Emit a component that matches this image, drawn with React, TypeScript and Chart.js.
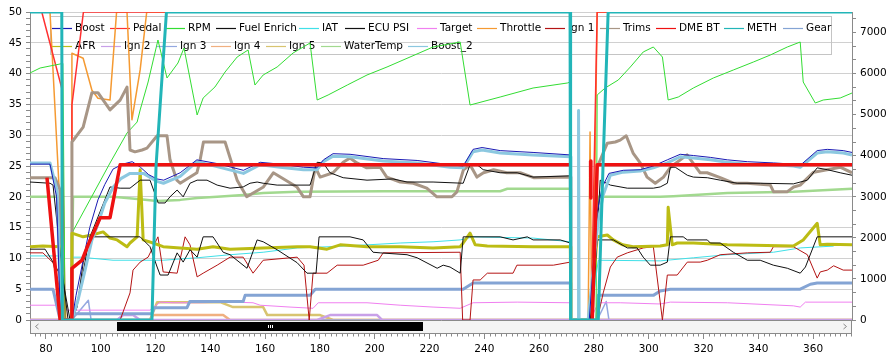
import React, { useEffect, useRef } from 'react';
import { Chart, registerables } from 'chart.js';

Chart.register(...registerables);

type Pt = [number, number | null];

// ---------- data (x = log time, y = value) ----------
const xMin = 74.2;
const xMax = 374.2;
const xTickValues = [80, 100, 120, 140, 160, 180, 200, 220, 240, 260, 280, 300, 320, 340, 360];
const leftMax = 50;
const rightMax = 7500;

const boost: Pt[] = [[74.2,25.3],[81.5,25.3],[83.9,20.0],[85.3,0],[89.5,0],[91.0,4.0],[93.5,9.5],[96.0,15.0],[99.0,19.5],[101.5,22.0],[104.5,24.5],[108.0,25.3],[111.5,25.7],[114.5,24.8],[117.5,23.6],[120.5,22.9],[123.0,22.7],[129.0,23.9],[135.1,26.0],[142.4,25.4],[152.1,24.3],[158.2,25.6],[165.5,25.3],[174.0,24.8],[178.9,24.7],[181.3,26.0],[184.8,27.0],[191.0,26.9],[203.1,26.2],[215.5,25.9],[227.5,25.2],[232.3,25.0],[235.9,27.7],[239.2,28.0],[245.8,27.5],[257.8,27.2],[271.4,26.8],[271.6,0],[278.3,0],[281.2,17.5],[283.0,21.5],[285.5,23.8],[290.7,24.3],[296.9,24.4],[301.7,25.0],[306.8,26.0],[311.5,26.9],[316.3,26.7],[322.5,26.4],[328.7,26.0],[336.0,25.7],[345.5,25.5],[352.8,25.3],[355.3,25.1],[361.5,27.5],[365.2,27.7],[371.0,27.5],[374.2,27.2]];

const boost2: Pt[] = [[74.2,25.5],[81.5,25.5],[84.1,21.0],[85.5,0],[89.5,0],[91.7,3.2],[94.3,8.1],[96.8,13.0],[98.6,15.1],[101.5,19.0],[104.6,21.6],[107.5,23.0],[110.7,23.8],[115.6,23.8],[120.5,22.5],[122.9,22.2],[129.0,23.3],[135.1,25.7],[142.4,24.9],[152.1,23.8],[158.2,25.2],[165.5,24.8],[174.0,24.4],[178.9,24.4],[181.3,25.7],[184.8,26.6],[191.0,26.5],[203.1,25.8],[215.5,25.5],[227.5,24.8],[232.3,24.7],[235.9,27.3],[239.2,27.6],[245.8,27.1],[257.8,26.8],[271.4,26.5],[271.6,0],[274.2,0],[274.4,34],[274.6,0],[277.9,0],[281.6,16.2],[283.4,20.3],[286.0,23.5],[290.7,24.0],[296.9,24.2],[301.7,24.7],[306.8,25.5],[311.5,26.5],[316.3,26.3],[322.5,26.0],[328.7,25.6],[336.0,25.3],[345.5,25.2],[352.8,25.0],[355.3,24.8],[361.5,27.1],[365.2,27.3],[371.0,27.1],[374.2,26.8]];

const pedal: Pt[] = [[74.2,50],[78.5,50],[85.8,37.6],[87.0,0],[89.2,0],[89.5,34.9],[93.7,50],[271.4,50],[271.6,0],[279.0,0],[281.2,50],[374.2,50]];

const rpm: Pt[] = [[74.2,6015],[77.9,6136],[81.5,6185],[85.2,6234],[86.2,6250],[87.0,0],[89.5,0],[89.7,2143],[103.4,3823],[109.6,4553],[113.3,4821],[114.4,5114],[117.3,5795],[120.9,6818],[124.2,5893],[128.2,6258],[130.4,6623],[135.2,4992],[137.4,5406],[141.7,5674],[145.4,6039],[149.8,6404],[153.8,6575],[156.3,5722],[159.3,5966],[164.4,6161],[170.2,6501],[176.4,6745],[179.0,5357],[183.0,5479],[190.0,5722],[197.2,5966],[204.5,6161],[212.9,6404],[221.3,6648],[231.2,6769],[234.8,5235],[245.8,5430],[257.8,5649],[270.3,5771],[271.4,5795],[271.7,0],[280.8,0],[281.2,5479],[284.1,5649],[288.9,5844],[293.3,6161],[298.0,6526],[301.7,6648],[305.0,6404],[307.1,5357],[310.8,5430],[316.3,5649],[323.6,5893],[330.9,6088],[338.2,6282],[344.4,6453],[350.6,6648],[355.3,6769],[356.4,5795],[360.8,5284],[363.7,5357],[369.9,5406],[374.2,5527]];

const fuelEnrich: Pt[] = [[74.2,22.4],[81.5,22.2],[82.6,21.9],[85.9,8.1],[88.1,0],[89.5,0],[91.4,2.1],[93.6,9.3],[96.1,13.5],[103.4,21.6],[107.1,21.4],[110.7,21.4],[114.4,22.7],[118.0,22.7],[121.0,19.0],[123.5,19.0],[125.3,20.0],[127.9,21.1],[130.1,20.0],[132.6,22.2],[135.2,22.7],[138.8,22.7],[142.5,21.9],[147.2,21.4],[152.0,21.6],[154.5,22.2],[157.1,22.4],[159.3,22.2],[164.4,21.9],[176.4,21.9],[179.0,25.6],[181.2,25.5],[183.7,23.9],[188.5,23.1],[197.2,22.7],[206.7,22.9],[211.8,22.4],[221.3,22.4],[232.3,22.2],[234.8,25.2],[237.4,25.2],[239.6,24.4],[245.8,23.9],[252.0,23.9],[257.8,23.2],[271.4,23.4],[271.6,0],[279.4,0],[282.3,22.7],[286.0,21.9],[292.2,21.4],[301.7,21.4],[304.2,21.6],[306.8,22.2],[307.9,24.8],[309.7,24.8],[314.1,23.5],[316.3,23.2],[321.4,23.1],[326.1,22.7],[332.3,22.2],[340.7,22.2],[352.8,22.1],[357.9,22.7],[361.5,24.7],[365.2,24.4],[369.9,23.9],[374.2,23.5]];

const iat: Pt[] = [[74.2,10.4],[85.2,10.4],[85.9,0],[89.2,0],[89.5,10.2],[92.5,10.2],[104.5,9.7],[122.8,9.7],[135.2,10.1],[147.2,10.6],[159.3,11.0],[171.7,11.7],[183.7,11.9],[197.2,12.2],[209.3,12.5],[221.3,12.7],[231.2,13.0],[235.9,13.5],[257.8,13.3],[271.4,12.7],[271.6,0],[278.7,0],[281.6,9.7],[304.2,9.6],[316.3,10.1],[328.7,10.6],[345.5,11.0],[355.3,11.7],[367.5,12.0]];

const ecuPsi: Pt[] = [[74.2,11.5],[79.7,11.5],[83.3,8.9],[86.2,6.5],[88.8,0],[89.9,0],[92.5,4.9],[95.4,12.2],[96.8,13.5],[114.4,13.5],[118.0,11.9],[120.6,8.6],[121.7,7.3],[124.6,7.3],[127.9,10.9],[130.1,9.4],[132.6,11.4],[135.2,10.2],[137.4,13.5],[141.0,13.5],[144.7,11.0],[147.2,10.6],[153.4,8.4],[157.1,13.0],[159.3,12.7],[164.4,11.4],[171.7,9.3],[175.3,7.6],[178.6,7.6],[179.7,13.5],[191.0,13.5],[195.8,13.0],[199.4,11.0],[202.0,10.9],[211.8,10.6],[215.5,10.1],[222.8,8.4],[225.0,8.9],[227.5,8.6],[231.2,7.6],[232.3,13.5],[245.8,13.5],[250.5,13.0],[255.7,13.5],[257.8,13.0],[267.7,13.0],[271.4,12.5],[271.6,0],[278.7,0],[281.2,13.0],[287.1,13.0],[292.2,11.7],[295.8,11.7],[298.0,10.2],[300.6,8.9],[304.2,8.9],[306.8,9.4],[307.9,13.5],[312.6,13.5],[314.1,13.0],[321.4,13.0],[322.5,12.5],[326.1,12.5],[330.9,11.0],[336.0,9.7],[340.7,9.7],[345.5,8.9],[350.6,8.4],[355.3,7.6],[357.2,8.6],[361.5,13.5],[374.2,13.5]];

const target: Pt[] = [[74.2,2.4],[85.2,2.4],[87.7,1.6],[118.0,1.6],[121.7,2.9],[126.4,2.8],[136.3,2.8],[148.3,2.9],[155.6,2.8],[158.2,2.4],[169.1,2.1],[177.5,1.9],[179.4,2.8],[197.2,2.8],[209.3,2.4],[221.3,2.1],[231.2,1.9],[235.9,2.8],[252.0,2.9],[271.4,2.8],[271.6,0],[278.7,0],[281.6,2.8],[289.6,2.8],[304.2,2.6],[307.9,2.9],[328.7,2.8],[352.8,2.3],[355.3,2.1],[357.2,2.9],[374.2,2.9]];

const throttle: Pt[] = [[74.2,50],[81.5,50],[87.3,0],[89.2,0],[89.5,43.3],[93.6,42.5],[96.8,37.3],[99.0,36.0],[103.4,35.7],[105.8,50],[109.6,50],[111.4,32.5],[114.4,40.6],[116.8,50],[271.4,50],[271.6,0],[277.9,0],[278.6,30.5],[279.2,0],[279.6,0],[281.2,50],[374.2,50]];

const ign1: Pt[] = [[74.2,10.9],[78.9,10.9],[82.6,9.3],[85.2,4.9],[86.2,0],[107.1,0],[110.7,4.4],[111.8,8.1],[114.4,9.4],[117.3,10.2],[120.9,13.5],[122.8,7.8],[127.9,7.6],[130.8,13.5],[132.6,12.2],[135.2,7.0],[137.4,7.6],[142.5,8.9],[147.2,10.2],[152.0,10.2],[155.6,7.6],[159.3,9.7],[171.7,10.2],[174.2,8.9],[176.1,0],[177.5,7.6],[182.6,7.6],[186.3,8.9],[195.8,8.9],[201.3,9.7],[203.1,10.9],[231.2,11.0],[232.1,0],[234.8,0],[235.9,6.5],[238.5,6.5],[241.1,7.6],[250.5,7.6],[251.9,8.9],[265.2,8.9],[271.4,9.4],[271.6,0],[281.2,0],[283.4,4.4],[286.0,8.6],[288.5,10.2],[292.2,10.9],[298.0,11.7],[301.7,11.9],[305.0,0],[306.8,7.3],[310.4,7.3],[314.1,9.4],[318.8,9.4],[321.4,9.7],[326.1,10.6],[336.0,10.9],[344.4,11.0],[345.5,11.9],[352.8,11.9],[357.9,10.6],[361.5,6.8],[362.6,7.8],[365.2,8.1],[367.5,8.8],[371.0,8.1],[374.2,8.1]];

const trims: Pt[] = [[74.2,23.1],[83.3,23.1],[85.2,21.1],[86.2,0],[89.2,0],[89.5,28.9],[93.6,31.3],[96.8,36.9],[99.0,36.9],[103.4,34.1],[107.1,35.7],[109.6,37.8],[110.7,27.6],[112.5,27.3],[115.1,27.6],[116.9,27.9],[120.6,29.9],[124.2,29.9],[125.3,26.0],[127.8,22.7],[129.0,22.2],[135.1,23.9],[136.3,26.0],[137.5,28.9],[145.4,28.9],[147.8,25.5],[149.8,22.7],[153.3,20.0],[159.4,21.6],[163.0,23.9],[171.6,21.6],[174.0,20.0],[176.4,20.0],[178.3,24.8],[180.1,23.2],[184.8,23.9],[188.5,25.6],[191.0,26.3],[193.5,25.5],[197.1,24.7],[202.0,24.8],[204.4,23.2],[209.3,22.4],[214.1,22.2],[219.0,21.4],[222.7,20.0],[228.2,20.0],[230.0,20.8],[232.4,24.4],[234.8,25.2],[237.3,23.2],[239.7,23.9],[243.4,24.4],[248.2,23.9],[253.1,23.9],[258.0,23.1],[271.4,23.2],[271.6,0],[279.4,0],[281.2,24.8],[284.9,28.7],[287.8,28.9],[289.6,29.2],[291.8,29.9],[294.3,27.1],[296.9,25.5],[299.4,23.2],[302.4,22.2],[305.4,23.2],[307.9,24.8],[314.0,26.8],[318.8,23.9],[321.3,23.9],[326.1,23.1],[331.0,22.2],[335.9,22.2],[344.4,21.9],[345.6,20.8],[350.5,20.8],[352.9,21.6],[355.3,21.9],[360.2,24.0],[365.1,24.4],[369.9,24.8],[374.2,23.9]];

const dmeBt: Pt[] = [[80.4,23.1],[85.2,0],[89.2,0],[89.5,8.4],[93.2,9.7],[95.4,12.2],[99.8,16.6],[103.4,16.6],[107.1,25.2],[271.4,25.2],[271.5,null],[278.8,25.8],[278.9,19.8],[279.0,null],[279.4,0],[281.2,25.2],[374.2,25.2]];

const meth: Pt[] = [[74.2,50],[85.8,50],[86.0,0],[118.7,0],[120.2,25],[124.0,50],[271.3,50],[271.5,0],[281.6,0],[283.4,26],[285.2,50],[374.2,50]];

const gear: Pt[] = [[74.2,5],[82.6,5],[85.2,0],[89.2,0],[89.9,1],[118.7,1],[119.5,2],[131.5,2],[132.5,3],[152.0,3],[152.7,4],[176.4,4],[178.3,5],[232.3,5],[235.9,6],[271.4,6],[271.6,0],[281.0,0],[281.6,4],[301.7,4],[304.2,4.7],[307.9,5],[355.3,5],[359.0,5.8],[361.5,6],[374.2,6]];

const afr: Pt[] = [[74.2,11.9],[78.9,12.0],[85.2,11.9],[85.9,0],[89.2,0],[89.5,14.1],[93.6,13.5],[96.8,13.8],[100.9,14.3],[103.4,13.3],[106.0,13.0],[109.6,11.9],[110.7,12.5],[113.3,13.5],[114.4,24.4],[115.5,13.0],[119.1,12.5],[122.8,11.9],[129.0,11.7],[135.2,11.5],[141.0,11.9],[147.2,11.5],[159.3,11.7],[171.7,11.9],[176.4,11.9],[182.6,11.5],[187.4,12.2],[197.2,11.9],[209.3,11.9],[221.3,11.7],[231.2,11.9],[232.3,12.5],[234.8,14.1],[236.7,12.2],[241.1,12.0],[257.8,11.9],[271.4,11.9],[271.6,0],[278.7,0],[281.2,13.5],[284.9,13.8],[287.1,13.0],[290.5,12.2],[294.3,11.9],[304.2,12.0],[306.8,12.2],[307.1,18.3],[308.6,12.2],[310.4,12.5],[316.3,12.5],[328.7,12.2],[352.8,12.0],[356.4,13.0],[361.5,15.7],[362.6,12.2],[365.2,12.3],[374.2,12.2]];

const ign2: Pt[] = [[74.2,0],[106.0,0],[108.2,0.8],[111.8,0.8],[114.4,0],[179.0,0],[183.7,0.8],[200.9,0.8],[202.7,0],[374.2,0]];

const ign3: Pt[] = [[74.2,0],[89.5,0],[95.5,3.2],[96.5,0],[281.2,0],[284.5,3.0],[285.5,0],[374.2,0]];

const ign4: Pt[] = [[74.2,0],[118.0,0],[119.1,0.8],[144.7,0.8],[147.2,0],[374.2,0]];

const ign5: Pt[] = [[74.2,0],[118.0,0],[120.6,2.9],[143.6,2.9],[148.3,2.1],[159.3,2.1],[160.8,0.8],[180.1,0.8],[184.8,0],[374.2,0]];

const waterTemp: Pt[] = [[74.2,20.0],[85.2,20.0],[85.9,0],[89.2,0],[89.9,20.0],[104.5,20.0],[114.4,19.6],[120.6,19.3],[129.0,19.5],[135.2,19.8],[142.5,20.0],[152.0,20.3],[159.3,20.6],[171.7,20.8],[203.1,20.9],[245.8,20.9],[248.4,21.3],[271.4,21.3],[271.6,0],[278.7,0],[281.6,20.0],[304.2,20.0],[309.0,20.1],[328.7,20.6],[352.8,20.8],[374.2,21.3]];

// ---------- series styling table ----------
const SERIES = [
  { label: 'Boost', data: boost, color: '#1a1ab4', width: 1, axis: 'y', order: 2 },
  { label: 'Pedal', data: pedal, color: '#ff3030', width: 1.5, axis: 'y', order: 12 },
  { label: 'RPM', data: rpm, color: '#33dd33', width: 1, axis: 'y1', order: 10 },
  { label: 'Fuel Enrich', data: fuelEnrich, color: '#111111', width: 1, axis: 'y', order: 4 },
  { label: 'IAT', data: iat, color: '#40e0e8', width: 1, axis: 'y', order: 8 },
  { label: 'ECU PSI', data: ecuPsi, color: '#111111', width: 1, axis: 'y', order: 5 },
  { label: 'Target', data: target, color: '#f080f0', width: 1, axis: 'y', order: 15 },
  { label: 'Throttle', data: throttle, color: '#f59a32', width: 1.5, axis: 'y', order: 13 },
  { label: 'Ign 1', data: ign1, color: '#b41414', width: 1, axis: 'y', order: 7 },
  { label: 'Trims', data: trims, color: '#a89686', width: 3, axis: 'y', order: 9 },
  { label: 'DME BT', data: dmeBt, color: '#ee1111', width: 3.5, axis: 'y', order: 1 },
  { label: 'METH', data: meth, color: '#22b5b8', width: 3, axis: 'y', order: 0 },
  { label: 'Gear', data: gear, color: '#84a4d4', width: 3, axis: 'y', order: 14 },
  { label: 'AFR', data: afr, color: '#bcbc14', width: 3, axis: 'y', order: 6 },
  { label: 'Ign 2', data: ign2, color: '#c8a0e8', width: 2.5, axis: 'y', order: 16 },
  { label: 'Ign 3', data: ign3, color: '#94a8e0', width: 1.5, axis: 'y', order: 17 },
  { label: 'Ign 4', data: ign4, color: '#f0b080', width: 2.5, axis: 'y', order: 18 },
  { label: 'Ign 5', data: ign5, color: '#d8c470', width: 2.5, axis: 'y', order: 19 },
  { label: 'WaterTemp', data: waterTemp, color: '#a2d98f', width: 2.5, axis: 'y', order: 11 },
  { label: 'Boost_2', data: boost2, color: '#8cc8e0', width: 3, axis: 'y', order: 3 },
];

const legendRow1 = ['Boost','Pedal','RPM','Fuel Enrich','IAT','ECU PSI','Target','Throttle','Ign 1','Trims','DME BT','METH','Gear'];
const legendRow1X = [75,133,188,239,322,368,440,500,568,623,679,747,806];
const legendRow2 = ['AFR','Ign 2','Ign 3','Ign 4','Ign 5','WaterTemp','Boost_2'];
const legendRow2X = [75,124,180,234,289,344,431];

const FONT_FAMILY = '"DejaVu Sans", sans-serif';
const FONT_SIZE = 10.5;
const AXIS_COLOR = '#8a8a8a';

const bgPlugin = {
  id: 'bg',
  beforeDraw(chart: any) {
    const { ctx, width, height } = chart;
    ctx.save();
    ctx.fillStyle = '#ffffff';
    ctx.fillRect(0, 0, width, height);
    ctx.restore();
  },
};

const legendPlugin = {
  id: 'boxLegend',
  beforeDatasetsDraw(chart: any) {
    const { ctx } = chart;
    ctx.save();
    ctx.strokeStyle = '#c4c4c4';
    ctx.lineWidth = 1;
    ctx.strokeRect(50.5, 16.5, 781, 38);
    ctx.font = `${FONT_SIZE}px ${FONT_FAMILY}`;
    ctx.textBaseline = 'middle';
    ctx.textAlign = 'left';
    const rows: [string[], number[], number][] = [
      [legendRow1, legendRow1X, 28],
      [legendRow2, legendRow2X, 46],
    ];
    rows.forEach(([labels, xs, y]) => {
      labels.forEach((lab, i) => {
        const s = SERIES.find((d) => d.label === lab);
        const tx = xs[i];
        ctx.strokeStyle = s ? s.color : '#888';
        ctx.lineWidth = 1.2;
        ctx.beginPath();
        ctx.moveTo(tx - 23, y + 0.5);
        ctx.lineTo(tx - 3, y + 0.5);
        ctx.stroke();
        ctx.fillStyle = '#000';
        ctx.fillText(lab, tx, y + 0.5);
      });
    });
    ctx.restore();
  },
};

const scrollPlugin = {
  id: 'scrollbar',
  afterDraw(chart: any) {
    const { ctx, chartArea: a, scales } = chart;
    const xs = scales.x;
    const b = a.bottom;
    ctx.save();
    ctx.fillStyle = '#f4f4f4';
    ctx.fillRect(a.left + 1, b + 1, a.right - a.left - 1, 12);
    ctx.strokeStyle = AXIS_COLOR;
    ctx.lineWidth = 1;
    ctx.beginPath();
    ctx.moveTo(a.left + 0.5, b);
    ctx.lineTo(a.left + 0.5, b + 13);
    ctx.moveTo(a.right - 0.5, b);
    ctx.lineTo(a.right - 0.5, b + 13);
    ctx.moveTo(a.left, b + 13.5);
    ctx.lineTo(a.right, b + 13.5);
    for (let v = Math.ceil(xMin / 2) * 2; v <= xMax; v += 2) {
      if (xTickValues.includes(v)) continue;
      const px = Math.round(xs.getPixelForValue(v)) + 0.5;
      ctx.moveTo(px, b + 13.5);
      ctx.lineTo(px, b + 16.5);
    }
    ctx.stroke();
    // thumb
    ctx.fillStyle = '#000';
    ctx.fillRect(117, b + 2, 306, 9);
    ctx.strokeStyle = '#ffffff';
    ctx.beginPath();
    [268, 270, 272].forEach((gx) => {
      ctx.moveTo(gx + 0.5, b + 5);
      ctx.lineTo(gx + 0.5, b + 8);
    });
    ctx.stroke();
    // arrows
    ctx.strokeStyle = '#8a8a8a';
    ctx.beginPath();
    ctx.moveTo(38.5, b + 4);
    ctx.lineTo(35.5, b + 6.5);
    ctx.lineTo(38.5, b + 9);
    ctx.moveTo(843.5, b + 4);
    ctx.lineTo(846.5, b + 6.5);
    ctx.lineTo(843.5, b + 9);
    ctx.stroke();
    ctx.restore();
  },
};

export default function App() {
  const ref = useRef<HTMLCanvasElement | null>(null);

  useEffect(() => {
    const canvas = ref.current;
    if (!canvas) return;
    Chart.defaults.font.family = FONT_FAMILY;
    Chart.defaults.font.size = FONT_SIZE;
    Chart.defaults.color = '#000';

    const datasets = SERIES.map((s) => ({
      label: s.label,
      data: s.data as any,
      borderColor: s.color,
      backgroundColor: s.color,
      borderWidth: s.width,
      yAxisID: s.axis,
      order: s.order,
      pointRadius: 0,
      tension: 0,
      fill: false,
      spanGaps: false,
      borderJoinStyle: 'round' as const,
    }));

    const chart = new Chart(canvas, {
      type: 'line',
      data: { datasets },
      options: {
        animation: false,
        responsive: false,
        devicePixelRatio: 1,
        events: [],
        layout: { padding: { top: 12, left: 0, right: 0, bottom: 0 } },
        plugins: { legend: { display: false }, tooltip: { enabled: false } },
        scales: {
          x: {
            type: 'linear',
            min: xMin,
            max: xMax,
            afterBuildTicks: (s: any) => {
              s.ticks = xTickValues.map((v) => ({ value: v }));
            },
            ticks: {
              autoSkip: false,
              maxRotation: 0,
              padding: 4,
              color: '#000',
              callback: (v: any) => String(v),
            },
            grid: { drawOnChartArea: false, tickLength: 19, tickColor: AXIS_COLOR },
            border: { color: AXIS_COLOR },
            afterFit: (s: any) => { s.height = 42; },
          },
          y: {
            position: 'left',
            min: 0,
            max: leftMax,
            ticks: {
              stepSize: 1,
              autoSkip: false,
              padding: 4,
              color: '#000',
              callback: (v: any) => (Number(v) % 5 === 0 ? String(v) : ''),
            },
            grid: {
              color: (c: any) => (c.tick && c.tick.value % 5 === 0 ? '#d0d0d0' : 'rgba(0,0,0,0)'),
              tickLength: 4,
              tickColor: AXIS_COLOR,
            },
            border: { color: AXIS_COLOR },
            afterFit: (s: any) => { s.width = 30; },
          },
          y1: {
            position: 'right',
            min: 0,
            max: rightMax,
            ticks: {
              stepSize: 1000 / 3,
              includeBounds: false,
              autoSkip: false,
              padding: 4,
              color: '#000',
              callback: (v: any) => {
                const k = Math.round(Number(v) / 1000);
                return Math.abs(Number(v) - k * 1000) < 1 ? String(k * 1000) : '';
              },
            },
            grid: { drawOnChartArea: false, tickLength: 4, tickColor: AXIS_COLOR },
            border: { color: AXIS_COLOR },
            afterFit: (s: any) => { s.width = 42; },
          },
        },
      } as any,
      plugins: [bgPlugin, legendPlugin, scrollPlugin],
    });

    return () => chart.destroy();
  }, []);

  return (
    <div style={{ position: 'fixed', left: 0, top: 0, width: 894, height: 362, background: '#fff' }}>
      <canvas ref={ref} width={894} height={362} style={{ display: 'block', width: 894, height: 362 }} />
    </div>
  );
}
